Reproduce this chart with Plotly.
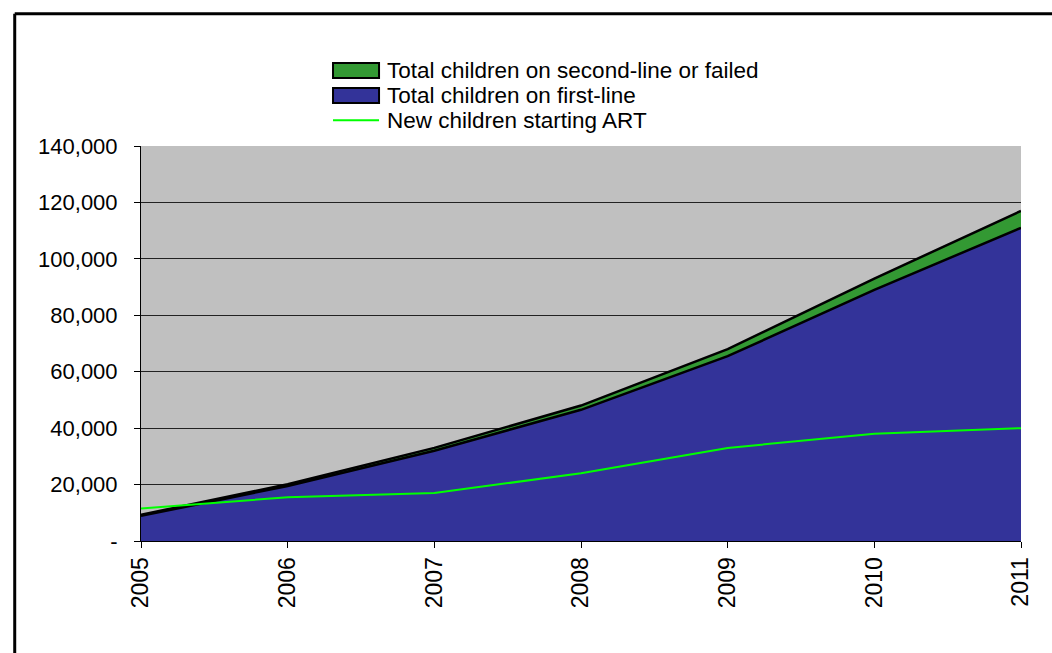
import plotly.graph_objects as go

years = [2005, 2006, 2007, 2008, 2009, 2010, 2011]
first_line = [8900, 19500, 32000, 46500, 65500, 89000, 111000]
second_line = [400, 600, 1000, 1500, 2500, 4000, 6000]
new_children = [11500, 15500, 17000, 24000, 33000, 38000, 40000]

total = [a + b for a, b in zip(first_line, second_line)]

ytick_vals = [0, 20000, 40000, 60000, 80000, 100000, 120000, 140000]
ytick_text = ["-", "20,000", "40,000", "60,000", "80,000", "100,000", "120,000", "140,000"]

names = ["Total children on second-line or failed",
         "Total children on first-line",
         "New children starting ART"]
fill_green = "#339933"
fill_blue = "#333399"
line_lime = "#00FF00"

fig = go.Figure()
fig.add_trace(go.Scatter(
    x=years, y=first_line, name=names[1],
    mode="lines", fill="tozeroy", fillcolor=fill_blue,
    line=dict(color="black", width=2.5)))
fig.add_trace(go.Scatter(
    x=years, y=total, name=names[0],
    mode="lines", fill="tonexty", fillcolor=fill_green,
    line=dict(color="black", width=2.5)))
fig.add_trace(go.Scatter(
    x=years, y=new_children, name=names[2],
    mode="lines", line=dict(color=line_lime, width=2)))

fig.update_layout(
    width=1052, height=653,
    margin=dict(l=141, r=31, t=146, b=112),
    paper_bgcolor="white", plot_bgcolor="#C0C0C0",
    font=dict(family="Liberation Sans, Arial", size=22, color="black"),
    showlegend=False,
)
fig.update_xaxes(
    range=[2005, 2011], tickvals=years, ticktext=[str(y) for y in years],
    tickangle=-90, ticks="outside", ticklen=6, tickcolor="black",
    ticklabelstandoff=0,
    showgrid=False, zeroline=False, showline=True, linecolor="black", linewidth=1,
    tickfont=dict(size=23))
fig.update_yaxes(
    range=[0, 140000], tickvals=ytick_vals, ticktext=ytick_text,
    ticks="outside", ticklen=6, tickcolor="black",
    ticklabelstandoff=12,
    showgrid=True, gridcolor="#222222", gridwidth=1, zeroline=False,
    showline=True, linecolor="black", linewidth=1, tickfont=dict(size=22))

# legend (drawn as swatches + text to match the original box-style keys)
sw_x0, sw_x1 = 0.2182, 0.2705
txt_x = 0.2773
rows_y = [1.191, 1.128, 1.065]
box_h = 0.019
for name, fc, yc in [(names[0], fill_green, rows_y[0]), (names[1], fill_blue, rows_y[1])]:
    fig.add_shape(type="rect", xref="paper", yref="paper",
                  x0=sw_x0, x1=sw_x1, y0=yc - box_h, y1=yc + box_h,
                  fillcolor=fc, line=dict(color="black", width=2))
fig.add_shape(type="line", xref="paper", yref="paper",
              x0=sw_x0, x1=sw_x1, y0=rows_y[2], y1=rows_y[2],
              line=dict(color=line_lime, width=2))
for name, yc in zip(names, rows_y):
    fig.add_annotation(xref="paper", yref="paper", x=txt_x, y=yc,
                       xanchor="left", yanchor="middle", text=name,
                       showarrow=False, font=dict(size=22.5))

# outer frame (left and top edges visible)
fig.add_shape(type="line", xref="paper", yref="paper",
              x0=-0.1435, x1=-0.1435, y0=-0.3, y1=1.335,
              line=dict(color="black", width=3))
fig.add_shape(type="line", xref="paper", yref="paper",
              x0=-0.1435, x1=1.05, y0=1.335, y1=1.335,
              line=dict(color="black", width=3))

fig.write_html("out.html")
